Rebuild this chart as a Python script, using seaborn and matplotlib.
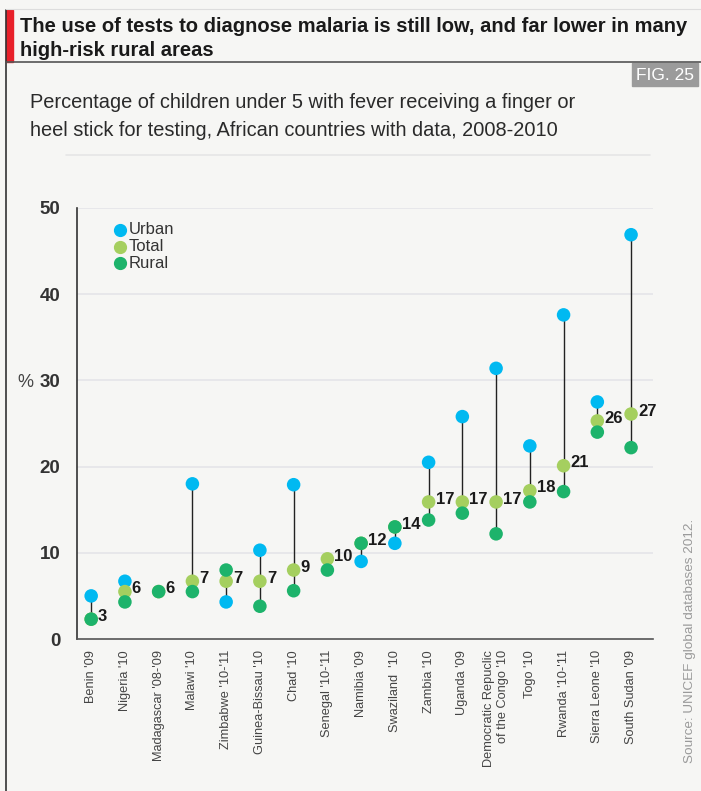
import matplotlib
matplotlib.use("Agg")
import matplotlib.pyplot as plt
from matplotlib.patches import Rectangle
from matplotlib.lines import Line2D
import seaborn as sns
import pandas as pd
import numpy as np

# Countries and survey years
countries = ["Benin '09", "Nigeria '10", "Madagascar '08-'09", "Malawi '10",
             "Zimbabwe '10-'11", "Guinea-Bissau '10", "Chad '10", "Senegal '10-'11",
             "Namibia '09", "Swaziland  '10", "Zambia '10", "Uganda '09",
             "Democratic Repuclic\nof the Congo '10", "Togo '10", "Rwanda '10-'11",
             "Sierra Leone '10", "South Sudan '09"]

# Percentage of children under 5 with fever receiving a finger or heel stick
urban = [5.0, 6.7, None, 18.0, 4.3, 10.3, 17.9, None, 9.0, 11.1, 20.5, 25.8, 31.4, 22.4, 37.6, 27.5, 46.9]
total = [2.3, 5.5, 5.5, 6.7, 6.7, 6.7, 8.0, 9.3, 11.1, 13.0, 15.9, 15.9, 15.9, 17.2, 20.1, 25.3, 26.1]
rural = [2.3, 4.3, 5.5, 5.5, 8.0, 3.8, 5.6, 8.0, 11.1, 13.0, 13.8, 14.6, 12.2, 15.9, 17.1, 24.0, 22.2]

# Printed national figures
total_labels = ["3", "6", "6", "7", "7", "7", "9", "10", "12", "14", "17", "17", "17", "18", "21", "26", "27"]

yticks = [0, 10, 20, 30, 40, 50]

BG = "#f6f6f4"
C_URBAN = "#00b9f1"
C_TOTAL = "#a5cf5f"
C_RURAL = "#1db36b"

sns.set_theme(style="white")
plt.rcParams["font.family"] = ["Liberation Sans", "DejaVu Sans"]

W, H = 701, 791
fig = plt.figure(figsize=(W / 100, H / 100), dpi=100, facecolor=BG)

# Frame, header bar and figure tag
fig.add_artist(Line2D([6 / W, 6 / W], [0, 1 - 10 / H], color="#333333", lw=1.2, transform=fig.transFigure))
fig.add_artist(Line2D([6 / W, 1], [1 - 62 / H, 1 - 62 / H], color="#555555", lw=1.2, transform=fig.transFigure))
fig.add_artist(Line2D([6 / W, 1], [1 - 9 / H, 1 - 9 / H], color="#dddddd", lw=0.8, transform=fig.transFigure))
fig.add_artist(Rectangle((6 / W, 1 - 62 / H), 7 / W, 52 / H, color="#e8202a", transform=fig.transFigure))
fig.add_artist(Rectangle((632 / W, 1 - 86 / H), 66 / W, 23 / H, color="#9b9b9b", transform=fig.transFigure))
fig.text(665 / W, 1 - 75 / H, "FIG. 25", color="white", fontsize=12.5, ha="center", va="center")

fig.text(20 / W, 1 - 26 / H, "The use of tests to diagnose malaria is still low, and far lower in many",
         fontsize=14.5, fontweight="bold", color="#1a1a1a", va="center")
fig.text(20 / W, 1 - 50 / H, "high-risk rural areas",
         fontsize=14.5, fontweight="bold", color="#1a1a1a", va="center")
fig.text(30 / W, 1 - 103 / H, "Percentage of children under 5 with fever receiving a finger or",
         fontsize=14.4, color="#2a2a2a", va="center")
fig.text(30 / W, 1 - 131 / H, "heel stick for testing, African countries with data, 2008-2010",
         fontsize=14.4, color="#2a2a2a", va="center")
fig.add_artist(Line2D([66 / W, 650 / W], [1 - 155 / H, 1 - 155 / H], color="#e6e6e6", lw=1.2, transform=fig.transFigure))

fig.text(690 / W, 1 - 641 / H, "Source: UNICEF global databases 2012.", rotation=90,
         fontsize=9.7, color="#9a9a9a", ha="center", va="center")

ax = fig.add_axes([77 / W, 1 - 639 / H, 576 / W, 431 / H])
ax.set_facecolor(BG)

x = np.arange(len(countries))
df = pd.DataFrame({
    "x": np.tile(x, 3),
    "value": urban + total + rural,
    "group": ["Urban"] * len(x) + ["Total"] * len(x) + ["Rural"] * len(x),
}).dropna()

# Connectors spanning the urban-rural gap
lo = [min(v for v in (u, t, r) if v is not None) for u, t, r in zip(urban, total, rural)]
hi = [max(v for v in (u, t, r) if v is not None) for u, t, r in zip(urban, total, rural)]
ax.vlines(x, lo, hi, color="#222222", lw=1.0, zorder=2)

sns.scatterplot(data=df, x="x", y="value", hue="group",
                hue_order=["Urban", "Total", "Rural"],
                palette={"Urban": C_URBAN, "Total": C_TOTAL, "Rural": C_RURAL},
                s=95, edgecolor="none", legend=False, ax=ax, zorder=3)

for xi, t, lab in zip(x, total, total_labels):
    ax.annotate(lab, (xi, t), xytext=(5, 2), textcoords="offset points",
                fontsize=12, fontweight="bold", color="#1a1a1a", ha="left", va="center", zorder=4)

ax.set_xlim(-0.42, 16.65)
ax.set_ylim(0, 50)
ax.set_yticks(yticks)
ax.set_yticklabels([str(v) for v in yticks], fontsize=13.5, fontweight="bold", color="#333333")
for v in yticks[1:]:
    ax.axhline(v, color="#e4e4e8", lw=1.2, zorder=0)
ax.set_xticks(x)
ax.set_xticklabels(countries, rotation=90, fontsize=9.2, color="#444444",
                   va="top", ha="center", multialignment="right")
ax.tick_params(axis="x", length=0, pad=8)
ax.tick_params(axis="y", length=0, pad=12)
ax.set_xlabel("")
ax.set_ylabel("")
for side in ["top", "right"]:
    ax.spines[side].set_visible(False)
ax.spines["left"].set_color("#333333")
ax.spines["left"].set_linewidth(1.2)
ax.spines["bottom"].set_color("#555555")
ax.spines["bottom"].set_linewidth(1.2)

fig.text(25 / W, 1 - 382 / H, "%", fontsize=13, color="#444444", ha="center", va="center")

# Legend
for i, (name, col) in enumerate([("Urban", C_URBAN), ("Total", C_TOTAL), ("Rural", C_RURAL)]):
    yy = 1 - (230 + i * 16.5) / H
    fig.add_artist(Line2D([120 / W], [yy], marker="o", color=col, markersize=8.5, lw=0,
                          transform=fig.transFigure))
    fig.text(129 / W, yy, name, fontsize=12, color="#333333", va="center")

fig.savefig("out.png", dpi=100, facecolor=BG)
